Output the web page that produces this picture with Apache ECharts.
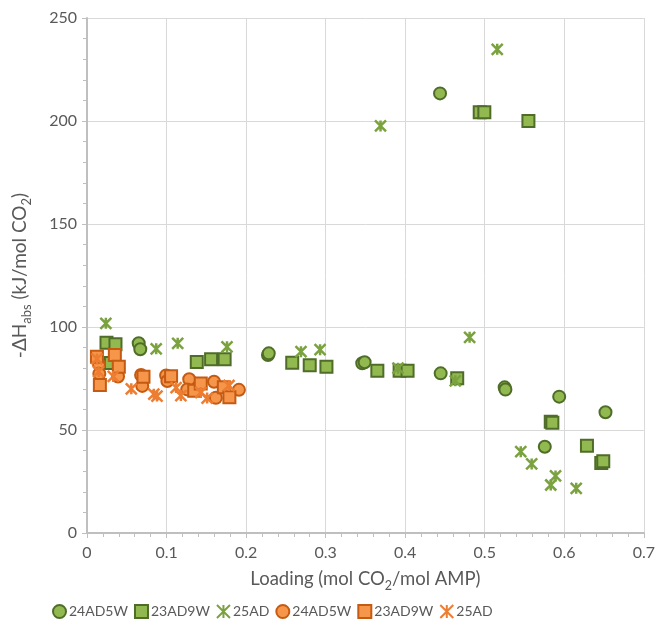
<!DOCTYPE html>
<html>
<head>
<meta charset="utf-8">
<script src="https://cdn.jsdelivr.net/npm/echarts@6/dist/echarts.min.js"></script>
<style>
html,body{margin:0;padding:0;background:#fff;}
#chart{width:658px;height:636px;}
</style>
</head>
<body>
<div id="chart"></div>
<script>
// Data (x = loading mol CO2/mol AMP, y = -ΔHabs kJ/mol CO2)
const seriesNames = ['24AD5W', '23AD9W', '25AD', '24AD5W\u200b', '23AD9W\u200b', '25AD\u200b'];
const green24AD5W = [[0.065,92.1],[0.067,89.2],[0.2275,86.4],[0.2285,87.2],[0.346,82.4],[0.349,82.9],[0.4438,213.4],[0.4446,77.5],[0.525,70.7],[0.526,69.6],[0.5755,41.9],[0.5936,66.2],[0.6518,58.6]];
const green23AD9W = [[0.0245,92.4],[0.0358,91.6],[0.030,82.5],[0.138,83.0],[0.156,84.3],[0.173,84.3],[0.258,82.7],[0.280,81.4],[0.301,80.7],[0.365,78.8],[0.393,78.8],[0.403,78.8],[0.4654,75.1],[0.4937,204.2],[0.4995,204.2],[0.5549,200.0],[0.583,54.0],[0.585,53.5],[0.6285,42.4],[0.6465,34.0],[0.649,34.8]];
const green25AD = [[0.0237,101.8],[0.087,89.4],[0.114,92.1],[0.176,90.4],[0.269,88.0],[0.293,89.0],[0.369,197.6],[0.391,80.0],[0.463,73.9],[0.481,95.0],[0.5157,234.8],[0.5453,39.5],[0.559,33.5],[0.583,23.3],[0.589,27.7],[0.615,21.7]];
const orange24AD5W = [[0.015,82.0],[0.0155,77.3],[0.039,76.0],[0.068,76.7],[0.0695,71.4],[0.0995,76.5],[0.101,73.8],[0.1285,74.6],[0.126,69.7],[0.1597,73.4],[0.162,65.6],[0.191,69.5]];
const orange23AD9W = [[0.0125,85.5],[0.0162,71.8],[0.035,86.4],[0.040,80.7],[0.071,75.9],[0.1057,76.1],[0.1348,69.1],[0.143,72.6],[0.172,70.7],[0.179,65.9]];
const orange25AD = [[0.0125,84.5],[0.0146,78.3],[0.033,76.0],[0.0557,70.0],[0.084,67.4],[0.088,66.5],[0.112,70.6],[0.118,66.7],[0.143,68.2],[0.151,65.5],[0.1785,71.6]];
const xTicks = {min: 0, max: 0.7, interval: 0.1};
const yTicks = {min: 0, max: 250, interval: 50};

const GREEN_FILL = '#92B950', GREEN_EDGE = '#4F6D28', GREEN_X = '#7AA23E';
const ORANGE_FILL = '#F6964B', ORANGE_EDGE = '#C55A11', ORANGE_X = '#ED7D31';
const XSYM = 'path://M0,0L10,10M10,0L0,10M5,0L5,10';
const FONT = 'Lato, "Open Sans", sans-serif';

function mk(name, data, symbol, size, fill, edge, bw, z) {
  return {
    name: name, type: 'scatter', data: data, symbol: symbol, symbolSize: size, z: z,
    itemStyle: {color: fill, borderColor: edge, borderWidth: bw, opacity: 1},
    emphasis: {disabled: true}
  };
}

const chart = echarts.init(document.getElementById('chart'), null, {renderer: 'canvas'});
chart.setOption({
  animation: false,
  backgroundColor: '#fff',
  grid: {left: 87, right: 10, top: 18, bottom: 103, containLabel: false},
  xAxis: {
    type: 'value', min: xTicks.min, max: xTicks.max, interval: xTicks.interval,
    name: 'Loading (mol CO{sub|2}/mol AMP)', nameLocation: 'middle', nameGap: 34,
    nameTextStyle: {color: '#595959', fontSize: 18.5, fontFamily: FONT,
      rich: {sub: {fontSize: 12.5, fontFamily: FONT, color: '#595959', verticalAlign: 'bottom', lineHeight: 25}}},
    axisLine: {show: true, lineStyle: {color: '#BFBFBF', width: 2}},
    axisTick: {show: true, length: 5, inside: false, lineStyle: {color: '#BFBFBF'}},
    minorTick: {show: true, splitNumber: 5, length: 4, lineStyle: {color: '#BFBFBF'}},
    axisLabel: {color: '#595959', fontSize: 16, fontFamily: FONT, margin: 12},
    splitLine: {show: true, lineStyle: {color: '#D9D9D9', width: 1}}
  },
  yAxis: {
    type: 'value', min: yTicks.min, max: yTicks.max, interval: yTicks.interval,
    name: '-ΔH{sub|abs} (kJ/mol CO{sub|2})', nameLocation: 'middle', nameGap: 54, nameRotate: 90,
    nameTextStyle: {color: '#595959', fontSize: 19, fontFamily: FONT,
      rich: {sub: {fontSize: 13, fontFamily: FONT, color: '#595959', verticalAlign: 'bottom', lineHeight: 27}}},
    axisLine: {show: true, lineStyle: {color: '#BFBFBF', width: 2}},
    axisTick: {show: true, length: 5, lineStyle: {color: '#BFBFBF'}},
    minorTick: {show: true, splitNumber: 5, length: 4, lineStyle: {color: '#BFBFBF'}},
    axisLabel: {color: '#595959', fontSize: 16, fontFamily: FONT, margin: 10},
    splitLine: {show: true, lineStyle: {color: '#D9D9D9', width: 1}}
  },
  legend: {
    show: true, left: 47, top: 599, itemWidth: 13, itemHeight: 13, itemGap: 6,
    textStyle: {color: '#595959', fontSize: 14, fontFamily: FONT, padding: [0, 0, 0, -2]},
    data: seriesNames
  },
  series: [
    mk(seriesNames[0], green24AD5W, 'circle', 12, GREEN_FILL, GREEN_EDGE, 2, 2),
    mk(seriesNames[1], green23AD9W, 'rect', 12, GREEN_FILL, GREEN_EDGE, 2, 3),
    mk(seriesNames[2], green25AD, XSYM, 11, 'rgba(0,0,0,0)', GREEN_X, 2.5, 4),
    mk(seriesNames[3], orange24AD5W, 'circle', 12, ORANGE_FILL, ORANGE_EDGE, 2, 5),
    mk(seriesNames[4], orange23AD9W, 'rect', 12, ORANGE_FILL, ORANGE_EDGE, 2, 6),
    mk(seriesNames[5], orange25AD, XSYM, 11, 'rgba(0,0,0,0)', ORANGE_X, 2.5, 7)
  ]
});
</script>
</body>
</html>
